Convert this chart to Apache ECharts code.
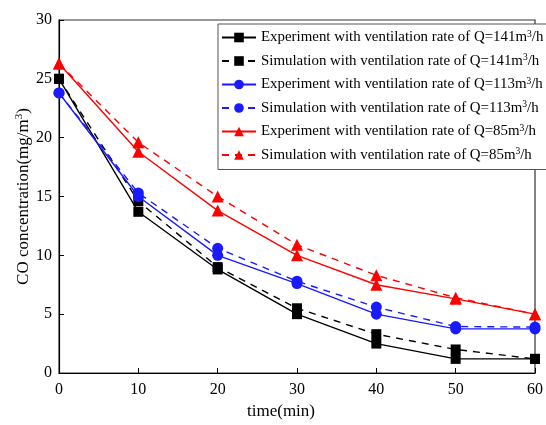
<!DOCTYPE html>
<html>
<head>
<meta charset="utf-8">
<script src="https://cdn.jsdelivr.net/npm/echarts@6/dist/echarts.min.js"></script>
<style>
  html, body { margin: 0; padding: 0; background: #fff; }
  #chart { width: 546px; height: 425px; }
</style>
</head>
<body>
<div id="chart"></div>
<script>
// Time points (min)
const times = [0, 10, 20, 30, 40, 50, 60];

// CO concentration (mg/m3) for each ventilation rate
const exp141 = [25.0, 13.7, 8.8, 5.0, 2.5, 1.2, 1.2];
const sim141 = [25.0, 14.6, 9.0, 5.5, 3.3, 2.0, 1.2];
const exp113 = [23.8, 15.0, 10.0, 7.6, 5.0, 3.75, 3.75];
const sim113 = [23.8, 15.3, 10.6, 7.8, 5.6, 3.95, 3.9];
const exp85  = [26.3, 18.8, 13.8, 10.0, 7.5, 6.3, 5.0];
const sim85  = [26.3, 19.6, 15.0, 10.9, 8.3, 6.4, 5.0];

const yTicks = [0, 5, 10, 15, 20, 25, 30];
const xTicks = [0, 10, 20, 30, 40, 50, 60];

const serif = '"Liberation Serif", "Times New Roman", serif';

function pairs(vals) {
  return times.map((t, i) => [t, vals[i]]);
}

function makeSeries(name, vals, color, dashed, symbol, size) {
  return {
    name: name,
    type: 'line',
    data: pairs(vals),
    symbol: symbol,
    symbolSize: size,
    itemStyle: { color: color },
    lineStyle: { color: color, width: 1.4, type: dashed ? [7, 6] : 'solid' },
    emphasis: { disabled: true },
    animation: false,
    z: dashed ? 2 : 3
  };
}

const series = [
  makeSeries('E141', exp141, '#000000', false, 'rect', 10),
  makeSeries('S141', sim141, '#000000', true, 'rect', 10),
  makeSeries('E113', exp113, '#1a1aff', false, 'circle', 11),
  makeSeries('S113', sim113, '#1a1aff', true, 'circle', 11),
  makeSeries('E85', exp85, '#ff0000', false, 'triangle', 12),
  makeSeries('S85', sim85, '#ff0000', true, 'triangle', 12)
];

const legendText = {
  E141: ['Experiment', '141'],
  S141: ['Simulation', '141'],
  E113: ['Experiment', '113'],
  S113: ['Simulation', '113'],
  E85: ['Experiment', '85'],
  S85: ['Simulation', '85']
};

const chart = echarts.init(document.getElementById('chart'), null, { renderer: 'canvas' });

chart.setOption({
  backgroundColor: '#ffffff',
  animation: false,
  grid: {
    left: 59, right: 7, top: 20, bottom: 42,
    show: true, borderColor: '#333', borderWidth: 1.2, backgroundColor: 'transparent'
  },
  legend: {
    orient: 'vertical',
    left: 218, top: 24,
    padding: [5, 4, 7, 3],
    itemWidth: 34, itemHeight: 12,
    itemGap: 7.5,
    borderColor: '#555', borderWidth: 1,
    backgroundColor: '#fff',
    data: series.map(s => s.name),
    formatter: function (name) {
      const t = legendText[name];
      return '{t|' + t[0] + ' with ventilation rate of Q=' + t[1] + 'm}{sup|3}{t|/h}';
    },
    textStyle: {
      fontFamily: serif,
      fontSize: 14.9,
      color: '#000',
      rich: {
        t: { fontFamily: serif, fontSize: 14.9, color: '#000' },
        sup: { fontFamily: serif, fontSize: 9.5, color: '#000', verticalAlign: 'top', padding: [0, 0, 7, 0] }
      }
    }
  },
  xAxis: {
    type: 'value',
    min: 0, max: 60, interval: 10,
    name: 'time(min)',
    nameLocation: 'middle',
    nameGap: 30,
    nameMoveOverlap: false,
    nameTextStyle: { fontFamily: serif, fontSize: 17, color: '#000', padding: [0, 32, 0, 0] },
    axisLine: { show: true, onZero: false, lineStyle: { color: '#000', width: 1.2 } },
    axisTick: { show: true, inside: true, length: 5, lineStyle: { color: '#000' } },
    axisLabel: {
      fontFamily: serif, fontSize: 16, color: '#000', margin: 9,
      formatter: v => (xTicks.indexOf(v) >= 0 ? String(v) : '')
    },
    splitLine: { show: false }
  },
  yAxis: {
    type: 'value',
    min: 0, max: 30, interval: 5,
    name: '{t|CO concentration(mg/m}{sup|3}{t|)}',
    nameLocation: 'middle',
    nameGap: 26,
    nameMoveOverlap: false,
    nameRotate: 90,
    nameTextStyle: {
      fontFamily: serif, fontSize: 17, color: '#000',
      rich: {
        t: { fontFamily: serif, fontSize: 17, color: '#000' },
        sup: { fontFamily: serif, fontSize: 11, color: '#000', verticalAlign: 'top', padding: [0, 0, 8, 0] }
      }
    },
    axisLine: { show: true, lineStyle: { color: '#000', width: 1.2 } },
    axisTick: { show: true, inside: true, length: 5, lineStyle: { color: '#000' } },
    axisLabel: {
      fontFamily: serif, fontSize: 16, color: '#000', margin: 7,
      formatter: v => (yTicks.indexOf(v) >= 0 ? String(v) : '')
    },
    splitLine: { show: false }
  },
  series: series
});
</script>
</body>
</html>
